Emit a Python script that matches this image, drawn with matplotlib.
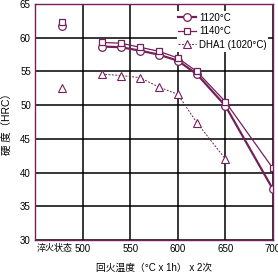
import matplotlib.pyplot as plt

plt.rcParams['font.family'] = ['Liberation Sans', 'Noto Sans CJK SC', 'DejaVu Sans']

temps = [520, 540, 560, 580, 600, 620, 650, 700]
quench_x = 478
hrc_1120 = [58.7, 58.6, 58.1, 57.5, 56.6, 54.6, 49.9, 37.5]
hrc_1140 = [59.3, 59.2, 58.6, 58.0, 57.0, 55.0, 50.5, 40.6]
hrc_dha1 = [54.6, 54.4, 54.1, 52.7, 51.6, 47.4, 42.0]
quench_1120 = 61.7
quench_1140 = 62.4
quench_dha1 = 52.5

xticks = [500, 550, 600, 650, 700]
quench_label = '淬火状态'
quench_label_x = 471
yticks = [30, 35, 40, 45, 50, 55, 60, 65]

col = '#74205a'

fig = plt.figure(figsize=(2.78, 2.72), dpi=100)
ax = fig.add_axes([0.126, 0.118, 0.856, 0.867])

ax.grid(True, which='major', color='black', linewidth=1.1)
ax.set_axisbelow(True)

ax.plot(temps, hrc_1120, '-o', color=col, lw=1.6, ms=5.5, mfc='white',
        mec=col, mew=0.9, label='1120°C')
ax.plot(temps, hrc_1140, '-s', color=col, lw=0.9, ms=5, mfc='white',
        mec=col, mew=0.9, label='1140°C')
ax.plot(temps[:len(hrc_dha1)], hrc_dha1, '--^', color=col, lw=0.7, ms=5.5,
        mfc='white', mec=col, mew=0.8, dashes=(2, 1.5), label='DHA1 (1020°C)')

ax.plot(quench_x, quench_1120, 'o', ms=5.5, mfc='white', mec=col, mew=0.9)
ax.plot(quench_x, quench_1140, 's', ms=5, mfc='white', mec=col, mew=0.9)
ax.plot(quench_x, quench_dha1, '^', ms=5.5, mfc='white', mec=col, mew=0.8)

ax.set_xlim(450, 700)
ax.set_ylim(30, 65)
ax.set_xticks(xticks)
ax.set_xticklabels([str(v) for v in xticks], fontsize=7)
ax.set_xticks([quench_label_x], minor=True)
ax.set_xticklabels([quench_label], minor=True, fontsize=6.5)
ax.set_yticks(yticks)
ax.set_yticklabels([str(v) for v in yticks], fontsize=7)
ax.tick_params(which='both', length=0, pad=3)
for s in ax.spines.values():
    s.set_color(col)
    s.set_linewidth(1.0)

ax.set_xlabel('回火温度（°C x 1h） x 2次', fontsize=7, labelpad=6)
ax.set_ylabel('硬 度（HRC）', fontsize=7.5, labelpad=5)

leg = ax.legend(loc='upper right', bbox_to_anchor=(0.985, 0.975), fontsize=7,
                frameon=True, fancybox=False, handlelength=1.8,
                handletextpad=0.3, labelspacing=0.35, borderpad=0.2,
                borderaxespad=0.1)
leg.get_frame().set_facecolor('white')
leg.get_frame().set_edgecolor('none')
leg.get_frame().set_alpha(1.0)

fig.savefig('out.png', dpi=100)
